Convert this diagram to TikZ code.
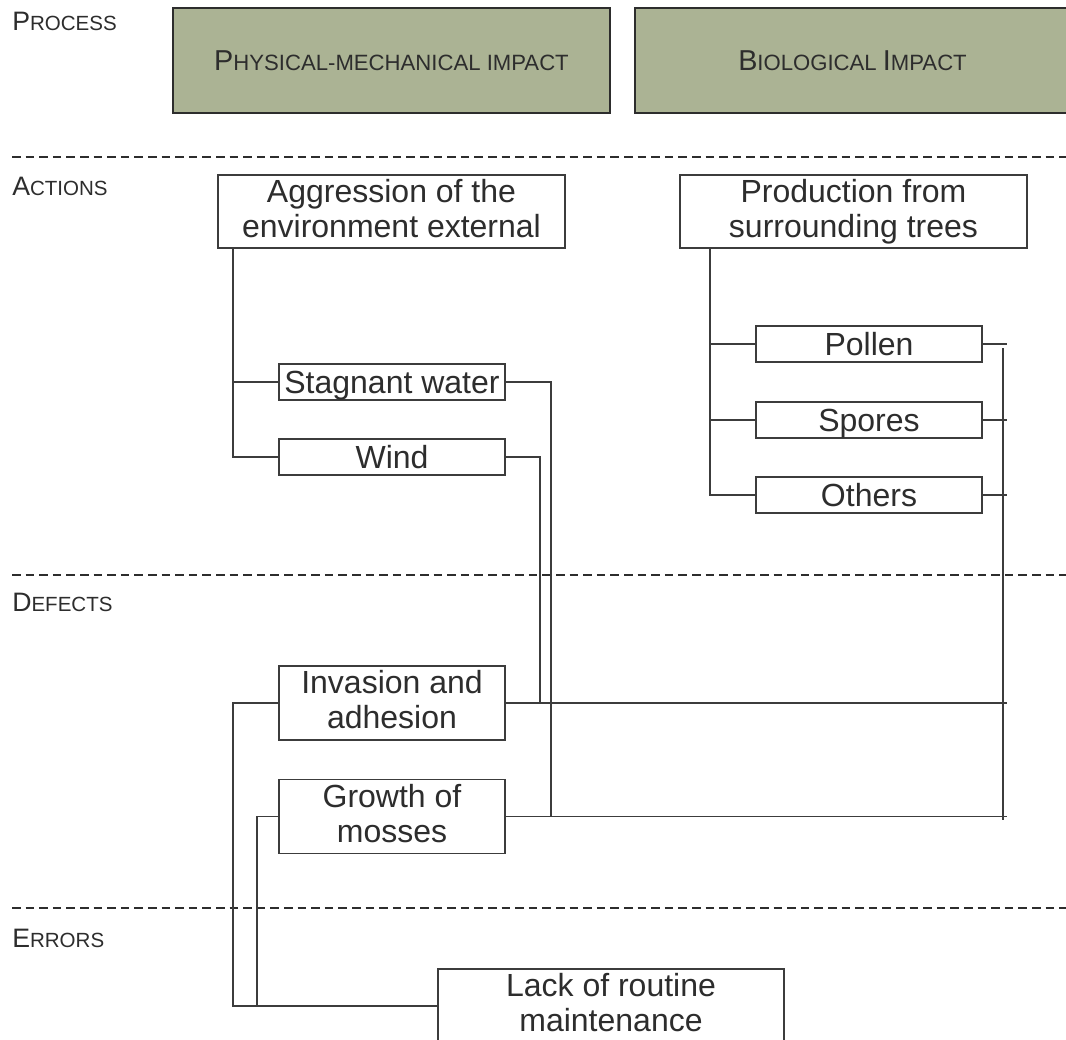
\documentclass[tikz,border=0pt]{standalone}
\usepackage{fontspec}
\setmainfont{Liberation Sans}
\usetikzlibrary{calc}
\definecolor{hdrfill}{RGB}{171,179,148}
\definecolor{ink}{RGB}{45,45,45}
\definecolor{wire}{RGB}{60,60,60}
% small-caps imitation: full capital followed by reduced capitals
\newcommand{\capsLbl}[2]{{\fontsize{20pt}{24pt}\selectfont #1}{\fontsize{15.4pt}{24pt}\selectfont #2}}
\newcommand{\capsHdr}[2]{{\fontsize{21.6pt}{26pt}\selectfont #1}{\fontsize{16.6pt}{26pt}\selectfont #2}}
% equal descender room on every last line of a two-line box
\newcommand{\lowline}{\vphantom{gy}}
\begin{document}
\begin{tikzpicture}[x=0.75pt,y=-0.75pt,
  hdrbox/.style={draw=ink, line width=1.5pt, fill=hdrfill, inner sep=0pt,
    minimum width=327.75pt, minimum height=78.75pt, text=ink,
    text height=15.5pt, text depth=0pt},
  bigbox/.style={draw=wire, line width=1.1pt, fill=white, inner sep=0pt, align=center,
    minimum width=260.25pt, minimum height=55pt, text=ink,
    font=\fontsize{24pt}{26.25pt}\selectfont},
  midbox/.style={bigbox, minimum width=169.5pt, minimum height=55.5pt},
  smallbox/.style={bigbox, minimum width=169.5pt, minimum height=27pt,
    text height=17.5pt, text depth=0pt},
  lbl/.style={anchor=base west, inner sep=0pt, text=ink},
  wire/.style={draw=wire, line width=1.1pt},
  sepline/.style={draw=ink, line width=1.5pt, dash pattern=on 6.4pt off 3.8pt}
]
\useasboundingbox (0,0) rectangle (1066,1039);
\clip (0,0) rectangle (1066,1039);
\fill[white] (0,0) rectangle (1066,1039);

% band separators
\draw[sepline] (12,157) -- (1066,157);
\draw[sepline] (12,575) -- (1066,575);
\draw[sepline] (12,908) -- (1066,908);

% band labels
\node[lbl] (lprocess) at (12,30) {\capsLbl{P}{ROCESS}};
\node[lbl] (lactions) at (12,195) {\capsLbl{A}{CTIONS}};
\node[lbl] (ldefects) at (12,611) {\capsLbl{D}{EFECTS}};
\node[lbl] (lerrors) at (12,947) {\capsLbl{E}{RRORS}};

% process headers
\node[hdrbox] (phys) at (391.5,60.5) {\capsHdr{P}{HYSICAL-MECHANICAL IMPACT}};
\node[hdrbox, minimum width=326.25pt] (bio) at (852.5,60.5) {\capsHdr{B}{IOLOGICAL }\capsHdr{I}{MPACT}};

% actions
\node[bigbox] (aggr) at (391.5,211.5) {Aggression of the\\environment external\lowline};
\node[bigbox] (prod) at (853.5,211.5) {Production from\\surrounding trees\lowline};
\node[smallbox] (stag) at (392,382) {Stagnant water};
\node[smallbox] (wind) at (392,457) {Wind};
\node[smallbox] (pollen) at (869,344) {Pollen};
\node[smallbox] (spores) at (869,420) {Spores};
\node[smallbox] (others) at (869,495) {Others};

% defects
\node[midbox] (inv) at (392,703) {Invasion and\\adhesion\lowline};
\node[midbox] (growth) at (392,816.5) {Growth of\\mosses\lowline};

% errors
\node[bigbox, minimum width=259.5pt, minimum height=55.5pt] (lack) at (611,1006) {Lack of routine\\maintenance\lowline};

% routing columns
\coordinate (lx1) at (233,0);
\coordinate (lx2) at (710,0);
\coordinate (lx3) at (257,0);
\coordinate (mx1) at (551,0);
\coordinate (mx2) at (540,0);
\coordinate (rx) at (1007,0);
\coordinate (busTop) at (1003,348);
\coordinate (busBot) at (1003,820);

% action trees
\draw[wire] (aggr.south -| lx1) |- (wind.west);
\draw[wire] (stag.west -| lx1) -- (stag.west);
\draw[wire] (prod.south -| lx2) |- (others.west);
\draw[wire] (pollen.west -| lx2) -- (pollen.west);
\draw[wire] (spores.west -| lx2) -- (spores.west);

% biological agents to the collector bus
\draw[wire] (pollen.east) -- (pollen.east -| rx);
\draw[wire] (spores.east) -- (spores.east -| rx);
\draw[wire] (others.east) -- (others.east -| rx);
\draw[wire] (busTop) -- (busBot);

% actions to defects
\draw[wire] (stag.east) -| (growth.east -| mx1);
\draw[wire] (wind.east) -| (inv.east -| mx2);
\draw[wire] (inv.east) -- (inv.east -| rx);
\draw[wire] (growth.east) -- (growth.east -| rx);

% defects to error
\draw[wire] (inv.west) -| (lack.west -| lx1) -- (lack.west);
\draw[wire] (growth.west) -| (lack.west -| lx3);
\end{tikzpicture}
\end{document}
